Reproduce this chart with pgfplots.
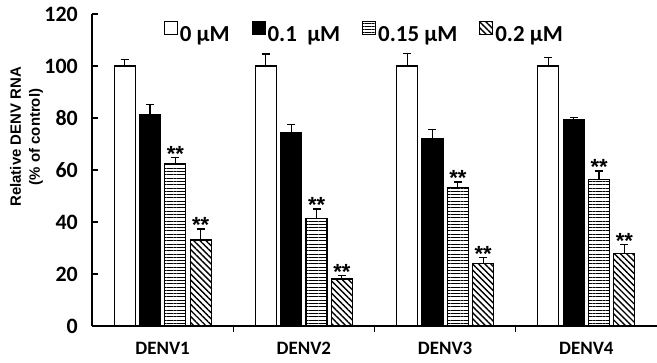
\documentclass[border=0pt]{standalone}
\usepackage{fontspec}
\setmainfont{Carlito}
\newfontfamily\arialf{Liberation Sans}[BoldFont={Liberation Sans Bold}]
\usepackage{pgfplots}
\pgfplotsset{compat=1.18}
\usetikzlibrary{patterns.meta}
\newcommand{\xl}[1]{{\bfseries\fontsize{19}{19}\selectfont #1}}
\newcommand{\st}{{\arialf\bfseries\fontsize{22}{22}\selectfont **}}
\begin{document}
\begin{tikzpicture}
\begin{axis}[
  at={(0,0)}, anchor=south west,
  scale only axis, width=565bp, height=312bp,
  xmin=-0.5, xmax=3.5, ymin=0, ymax=120,
  axis lines=left, axis line style={-, line width=1.2bp, black},
  tick align=inside, major tick length=6bp, tick style={line width=1.2bp, black},
  ytick={0,20,...,120}, xtick={0.5,1.5,2.5}, xticklabels={},
  extra x ticks={0,1,2,3}, extra x tick labels={\xl{DENV1},\xl{DENV2},\xl{DENV3},\xl{DENV4}},
  extra x tick style={major tick length=0bp},
  every tick label/.append style={font=\bfseries\fontsize{22}{22}\selectfont},
  yticklabel style={inner sep=0pt, xshift=-14bp},
  xticklabel style={inner sep=0pt, yshift=-16bp},
  /pgf/number format/assume math mode=true,
  ylabel={Relative DENV RNA\\(\% of control)},
  every axis y label/.append style={font=\arialf\bfseries\fontsize{15}{19}\selectfont, align=center,
    at={(axis description cs:-0.116,0.606)}, anchor=center},
  ybar, bar width=21bp,
  error bars/error bar style={line width=1.2bp, black},
  error bars/error mark options={rotate=90, mark size=4bp, line width=1.2bp, black},
  every node near coord/.append style={inner sep=0pt, anchor=south, yshift=-4bp},
  legend style={at={(axis description cs:0.482,0.939)}, anchor=center, draw=none, fill=none,
    font=\bfseries\fontsize{23}{23}\selectfont, nodes={inner xsep=2bp},
    /tikz/every even column/.append style={column sep=20bp}},
  legend columns=4,
  legend image code/.code={\draw[#1, line width=1bp] (0bp,0bp) rectangle (13bp,13bp);},
]
\addplot[fill=white, draw=black, line width=1.2bp, bar shift=-38bp,
  error bars/.cd, y dir=plus, y explicit]
  coordinates {(0,100) +- (0,2.6) (1,100) +- (0,4.6) (2,100) +- (0,4.9) (3,100) +- (0,3.3)};
\addplot[fill=black, draw=black, line width=1.2bp, bar shift=-12.7bp,
  error bars/.cd, y dir=plus, y explicit]
  coordinates {(0,81.4) +- (0,3.9) (1,74.3) +- (0,3.3) (2,72.2) +- (0,3.4) (3,79.2) +- (0,1.1)};
\addplot[pattern={Lines[angle=0, distance=3.3bp, line width=1bp]}, draw=black, line width=1.2bp, bar shift=12.7bp,
  error bars/.cd, y dir=plus, y explicit]
  coordinates {(0,62.3) +- (0,2.6) (1,41.2) +- (0,3.8) (2,53.3) +- (0,2.1) (3,56.2) +- (0,3.4)};
\addplot[pattern={Lines[angle=-45, distance=4.3bp, line width=1.4bp]}, draw=black, line width=1.2bp, bar shift=38bp,
  error bars/.cd, y dir=plus, y explicit]
  coordinates {(0,33.1) +- (0,4.2) (1,18.1) +- (0,1.3) (2,24.1) +- (0,2.3) (3,28.0) +- (0,3.4)};
\addplot[draw=none, fill=none, bar shift=12.7bp, forget plot, nodes near coords={\st}]
  coordinates {(0,64.9) (1,45.0) (2,55.4) (3,59.6)};
\addplot[draw=none, fill=none, bar shift=38bp, forget plot, nodes near coords={\st}]
  coordinates {(0,37.3) (1,19.4) (2,26.4) (3,31.4)};
\legend{0 μM, 0.1\ \ μM, 0.15 μM, 0.2 μM}
\end{axis}
\pgfresetboundingbox
\useasboundingbox (-92bp,-37bp) rectangle (565bp,326bp);
\end{tikzpicture}
\end{document}
